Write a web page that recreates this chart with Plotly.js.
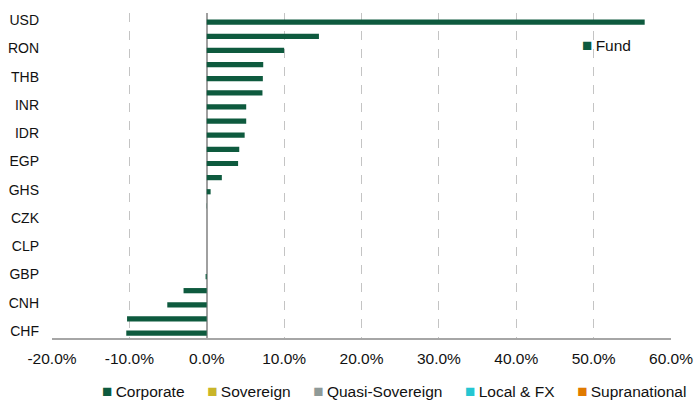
<!DOCTYPE html>
<html>
<head>
<meta charset="utf-8">
<script src="https://cdn.plot.ly/plotly-3.0.1.min.js"></script>
<style>html,body{margin:0;padding:0;background:#fff;}#chart{width:696px;height:403px;}</style>
</head>
<body>
<div id="chart"></div>
<script>
// Currencies, top to bottom (only every other one is labelled in the chart)
var categories = ['USD','EUR','RON','PLN','THB','MYR','INR','ZAR','IDR','HUF','EGP','BRL','GHS','MXN','CZK','COP','CLP','PEN','GBP','KZT','CNH','JPY','CHF'];
var shownLabels = ['USD','RON','THB','INR','IDR','EGP','GHS','CZK','CLP','GBP','CNH','CHF'];
// Exposure by sector (fraction of fund)
var corporate = [0.566,0.145,0.100,0.073,0.0725,0.072,0.051,0.051,0.049,0.042,0.0405,0.0195,0.005,0.0003,0,0,0,0,-0.0015,-0.030,-0.051,-0.103,-0.104];
var sovereign = [0,0,0,0,0,0,0,0,0,0,0,0,0,0,0,0,0,0,0,0,0,0,0];
var quasiSovereign = [0,0,0,0,0,0,0,0,0,0,0,0,0,0,0,0,0,0,0,0,0,0,0];
var localFX = [0,0,0,0,0,0,0,0,0,0,0,0,0,0,0,0,0,0,0,0,0,0,0];
var supranational = [0,0,0,0,0,0,0,0,0,0,0,0,0,0,0,0,0,0,0,0,0,0,0];
var xTickVals = [-0.2,-0.1,0,0.1,0.2,0.3,0.4,0.5,0.6];
var xTickText = ['-20.0%','-10.0%','0.0%','10.0%','20.0%','30.0%','40.0%','50.0%','60.0%'];
var seriesNames = ['Corporate','Sovereign','Quasi-Sovereign','Local & FX','Supranational'];
var seriesColors = ['#0e5a3e','#c9b52a','#8f9a98','#25c6d2','#e07a00'];
var seriesValues = [corporate, sovereign, quasiSovereign, localFX, supranational];
var fundName = 'Fund';

var traces = seriesNames.map(function(name, i){
  return {
    type:'bar', orientation:'h', name:name, x:seriesValues[i], y:categories,
    marker:{color:seriesColors[i]}, showlegend:false, hoverinfo:'x+y'
  };
});

function sq(color){
  return '<span style="color:' + color + ';font-size:17px">■</span><span style="font-size:12px"> </span>';
}
var legendText = seriesNames.map(function(name, i){ return sq(seriesColors[i]) + name; })
  .join('     <span style="font-size:4px"> </span>');
var fundText = sq(seriesColors[0]) + fundName;

var family = '"Liberation Sans", Arial, sans-serif';
var font = {family:family, size:15.5, color:'#111'};
var layout = {
  width:696, height:403,
  margin:{l:52, r:25, t:13, b:65},
  paper_bgcolor:'#fff', plot_bgcolor:'#fff',
  font:font,
  barmode:'relative', bargap:0.63,
  showlegend:false,
  xaxis:{
    range:[-0.2,0.6], tickvals:xTickVals, ticktext:xTickText,
    tickfont:{family:family, size:15.5, color:'#111'},
    showgrid:true, gridcolor:'#c4c4c4', griddash:'dash', gridwidth:1,
    zeroline:true, zerolinecolor:'#a0a0a0', zerolinewidth:2,
    showline:true, linecolor:'#a6a6a6', linewidth:1.5,
    ticks:'', ticklabelstandoff:6, fixedrange:true
  },
  yaxis:{
    type:'category', autorange:false, range:[22.35,-0.65],
    tickvals:shownLabels, ticktext:shownLabels, ticklabelshift:2,
    tickfont:{family:family, size:14, color:'#111'},
    showgrid:false, zeroline:false, showline:false, ticks:'', ticklabelstandoff:12, fixedrange:true
  },
  annotations:[
    {xref:'paper', yref:'paper', x:0.5525, y:-0.166, xanchor:'center', yanchor:'middle',
     text:legendText, showarrow:false, font:font},
    {xref:'paper', yref:'paper', x:0.853, y:0.899, xanchor:'left', yanchor:'middle',
     text:fundText, showarrow:false, font:font}
  ]
};
Plotly.newPlot('chart', traces, layout, {displayModeBar:false, staticPlot:true});
</script>
</body>
</html>
